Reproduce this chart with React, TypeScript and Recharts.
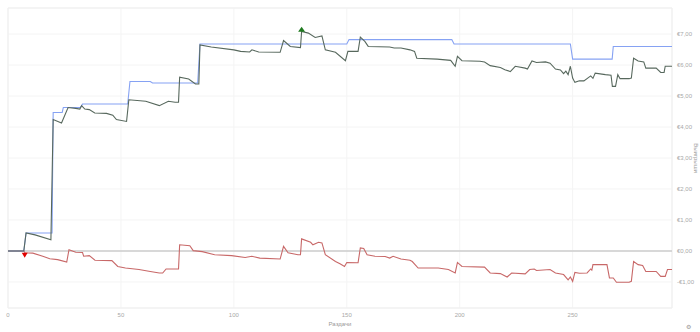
import { LineChart, Line, XAxis, YAxis, CartesianGrid, ReferenceLine, ReferenceArea, ReferenceDot } from 'recharts';

// Winnings graph: total winnings, all-in EV, non-showdown winnings

const winHands = [0, 7, 8, 12, 19, 20, 23.7, 26.6, 30, 31.8, 32.6, 34, 36, 38.4, 43.6, 46.4, 48, 52.5, 53.5, 61, 67, 71, 74, 75.5, 76, 80, 83, 84.5, 85, 90, 100, 103, 107, 108, 111, 120.5, 122, 125, 129.5, 130, 133, 136, 139, 140.5, 145, 149.4, 150.5, 155, 156, 158, 159.5, 169, 171, 174, 178, 180, 181, 190, 196, 198, 199, 201, 209, 211, 213.5, 218, 220, 222.4, 224.6, 229, 230, 232, 234, 238, 240, 242.4, 244.6, 246, 247, 248, 249, 250, 251, 253, 255, 258, 259, 260, 264.5, 267, 267.6, 269, 270, 271, 275, 276, 277, 279, 281.5, 282.4, 287, 289, 290.5, 291, 294];
const winValues = [0, 0, 0.58, 0.52, 0.36, 4.24, 4.13, 4.63, 4.6, 4.58, 4.69, 4.58, 4.56, 4.45, 4.44, 4.38, 4.24, 4.18, 4.88, 4.83, 4.69, 4.83, 4.8, 4.8, 5.61, 5.55, 5.39, 5.39, 6.65, 6.58, 6.49, 6.44, 6.42, 6.49, 6.42, 6.41, 6.79, 6.6, 6.56, 7.08, 7.03, 6.89, 6.94, 6.49, 6.41, 6.14, 6.44, 6.44, 6.9, 6.76, 6.6, 6.58, 6.55, 6.55, 6.49, 6.44, 6.22, 6.19, 6.15, 5.96, 6.28, 6.14, 6.12, 6.1, 5.98, 5.92, 5.85, 5.79, 5.96, 5.9, 5.87, 6.13, 6.08, 6.1, 6.06, 5.87, 5.84, 5.72, 5.8, 5.69, 5.96, 5.58, 5.44, 5.49, 5.49, 5.65, 5.57, 5.74, 5.69, 5.67, 5.31, 5.31, 5.69, 5.56, 5.56, 5.58, 6.22, 6.13, 6.1, 5.9, 5.9, 5.76, 5.76, 5.96, 5.96];

const evHands = [0, 7, 8, 19.5, 20, 24, 24.5, 32, 33, 53, 54, 63, 64, 84, 85, 150, 151, 196.5, 197.5, 249, 250, 267.5, 268, 294];
const evValues = [0, 0, 0.58, 0.58, 4.47, 4.47, 4.63, 4.63, 4.74, 4.74, 5.47, 5.47, 5.42, 5.42, 6.68, 6.68, 6.82, 6.82, 6.68, 6.68, 6.19, 6.19, 6.6, 6.6];

const nsdHands = [0, 7, 7.5, 11, 15.4, 18.5, 22, 26, 27, 30, 33, 33.5, 36, 38.5, 46, 48.6, 52, 58, 63, 67, 68.5, 70, 75.5, 76, 80.5, 82, 86, 91.5, 99, 105, 108, 111.5, 120.5, 122, 124, 128.4, 129.5, 130, 134, 135, 137.5, 139, 140.5, 145, 147, 149, 150, 155, 156, 157.5, 159, 162.5, 167, 169, 170.5, 174, 178, 179, 181.6, 190.5, 195, 198, 199, 201, 211, 213.5, 218, 221, 223, 229, 231, 233, 234, 240, 242.4, 246, 248, 249, 250, 251, 253, 256.4, 258, 258.5, 259, 265.2, 266.3, 268, 269.4, 275, 276, 277, 279, 281, 282.4, 287, 289, 291, 292, 294];
const nsdValues = [0, 0, -0.06, -0.07, -0.17, -0.25, -0.28, -0.36, 0.04, -0.04, -0.05, -0.17, -0.15, -0.3, -0.31, -0.5, -0.55, -0.6, -0.66, -0.71, -0.71, -0.58, -0.58, 0.2, 0.17, 0.01, -0.02, -0.12, -0.15, -0.21, -0.17, -0.23, -0.26, 0.15, -0.06, -0.12, -0.12, 0.39, 0.28, 0.2, 0.28, 0.26, -0.12, -0.34, -0.41, -0.5, -0.37, -0.38, 0.1, 0.08, -0.12, -0.17, -0.18, -0.23, -0.17, -0.26, -0.3, -0.34, -0.55, -0.55, -0.6, -0.71, -0.37, -0.5, -0.52, -0.71, -0.73, -0.84, -0.71, -0.74, -0.6, -0.58, -0.63, -0.6, -0.71, -0.76, -0.93, -0.84, -0.98, -0.69, -0.72, -0.71, -0.58, -0.62, -0.44, -0.44, -0.87, -0.87, -1.01, -1.01, -0.98, -0.34, -0.44, -0.47, -0.66, -0.66, -0.82, -0.82, -0.6, -0.6];

const xTicks = [0, 50, 100, 150, 200, 250];
const yTicks = [-1, 0, 1, 2, 3, 4, 5, 6, 7];

const maxPoint = { x: 130, y: 7.12 };
const minPoint = { x: 7.4, y: -0.12 };

const toSeries = (hands: number[], values: number[]) =>
  hands.map((x, i) => ({ x, v: values[i] }));

const winData = toSeries(winHands, winValues);
const evData = toSeries(evHands, evValues);
const nsdData = toSeries(nsdHands, nsdValues);

const euro = (v: number) => (v < 0 ? '-€' : '€') + Math.abs(v).toFixed(2).replace('.', ',');

const tickStyle = { fontSize: 6, fill: '#a8a8a8' };

function UpTriangle({ cx, cy }: any) {
  return <polygon points={`${cx},${cy - 3.5} ${cx - 3.5},${cy + 1.5} ${cx + 3.5},${cy + 1.5}`} fill="#1f7a1f" />;
}

function DownTriangle({ cx, cy }: any) {
  return <polygon points={`${cx - 3},${cy - 2} ${cx + 3},${cy - 2} ${cx},${cy + 3}`} fill="#e00000" />;
}

export default function App() {
  return (
    <div style={{ position: 'absolute', left: 0, top: 0, width: 700, height: 332, background: '#fff', fontFamily: '"Liberation Sans", Arial, sans-serif' }}>
      <LineChart width={700} height={332} margin={{ top: 8, right: 0, bottom: 0, left: 8 }}>
        <CartesianGrid stroke="#f4f4f4" strokeWidth={1} />
        <ReferenceArea x1={0} x2={294} y1={-1.84} y2={7.84} fill="none" stroke="#efefef" />
        <XAxis
          type="number"
          dataKey="x"
          domain={[0, 294]}
          ticks={xTicks}
          allowDataOverflow
          tick={tickStyle}
          tickLine={false}
          axisLine={false}
          tickSize={0}
          tickMargin={5}
          height={24}
          label={{
            content: () => (
              <text x={340} y={326} textAnchor="middle" fontSize={6} fill="#999">Раздачи</text>
            ),
          }}
        />
        <YAxis
          orientation="right"
          type="number"
          domain={[-1.84, 7.84]}
          ticks={yTicks}
          allowDataOverflow
          tickFormatter={euro}
          tick={{ ...tickStyle, textAnchor: 'start' }}
          tickLine={false}
          axisLine={false}
          tickSize={0}
          tickMargin={5}
          width={28}
          label={{
            content: () => (
              <text x={694} y={158} textAnchor="middle" fontSize={6} fill="#999" transform="rotate(90 694 158)">Выигрыши</text>
            ),
          }}
        />
        <ReferenceLine y={0} stroke="#cccccc" strokeWidth={1.3} />
        <Line data={nsdData} dataKey="v" type="linear" stroke="#c86868" strokeWidth={1.1} dot={false} isAnimationActive={false} />
        <Line data={evData} dataKey="v" type="linear" stroke="#86a2f3" strokeWidth={1.1} dot={false} isAnimationActive={false} />
        <Line data={winData} dataKey="v" type="linear" stroke="#57685d" strokeWidth={1.1} dot={false} isAnimationActive={false} />
        <ReferenceDot x={maxPoint.x} y={maxPoint.y} r={4} shape={(p: any) => <UpTriangle {...p} />} />
        <ReferenceDot x={minPoint.x} y={minPoint.y} r={4} shape={(p: any) => <DownTriangle {...p} />} />
      </LineChart>
      <div style={{ position: 'absolute', left: 686, top: 323, fontSize: 6, color: '#999' }}>⚙</div>
    </div>
  );
}
